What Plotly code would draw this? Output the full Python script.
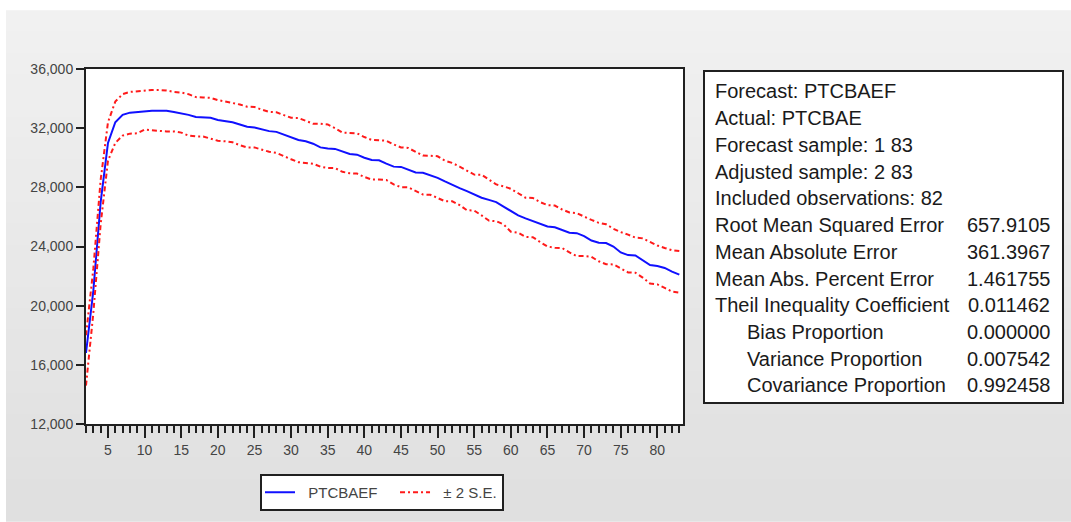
import plotly.graph_objects as go

obs = list(range(2, 84))
forecast = [16800, 21000, 27000, 31000, 32400, 32900, 33050, 33100, 33150, 33180,
            33180, 33180, 33100, 33020, 32900, 32750, 32730, 32700, 32550, 32460,
            32400, 32250, 32100, 32050, 31900, 31800, 31750, 31550, 31400, 31200,
            31110, 30950, 30700, 30620, 30600, 30450, 30250, 30210, 30000, 29850,
            29830, 29600, 29400, 29380, 29200, 29000, 28980, 28800, 28640, 28400,
            28200, 27950, 27740, 27500, 27300, 27150, 27000, 26700, 26400, 26100,
            25900, 25710, 25500, 25350, 25300, 25100, 24930, 24900, 24700, 24400,
            24250, 24230, 24000, 23600, 23420, 23400, 23100, 22750, 22680, 22550,
            22300, 22100]
upper = [18000, 22500, 28500, 32400, 33800, 34300, 34450, 34500, 34550, 34580,
         34580, 34550, 34450, 34410, 34300, 34100, 34070, 34050, 33900, 33800,
         33740, 33600, 33450, 33430, 33250, 33100, 33070, 32900, 32700, 32690,
         32500, 32300, 32300, 32250, 32000, 31700, 31680, 31650, 31400, 31200,
         31180, 31150, 30900, 30700, 30660, 30400, 30150, 30140, 30100, 29800,
         29650, 29400, 29100, 28860, 28850, 28500, 28200, 28070, 27900, 27600,
         27300, 27280, 27000, 26800, 26770, 26500, 26300, 26250, 26000, 25800,
         25600, 25500, 25200, 24970, 24800, 24600, 24550, 24300, 24070, 23900,
         23750, 23690]
lower = [14600, 19500, 25500, 29800, 31000, 31500, 31630, 31650, 31900, 31850,
         31800, 31780, 31780, 31700, 31500, 31440, 31440, 31300, 31150, 31110,
         31050, 30850, 30700, 30700, 30550, 30400, 30330, 30100, 29900, 29700,
         29650, 29600, 29400, 29310, 29300, 29050, 28950, 28930, 28700, 28530,
         28530, 28500, 28200, 28010, 28000, 27750, 27510, 27500, 27300, 27060,
         27060, 26800, 26450, 26430, 26100, 25750, 25710, 25500, 25000, 24930,
         24650, 24630, 24300, 24000, 23920, 23900, 23600, 23350, 23350, 23300,
         23000, 22800, 22790, 22500, 22250, 22230, 21900, 21500, 21440, 21200,
         20950, 20880]

y_ticks = [12000, 16000, 20000, 24000, 28000, 32000, 36000]

stat_labels = ["Forecast: PTCBAEF", "Actual: PTCBAE", "Forecast sample: 1 83",
               "Adjusted sample: 2 83", "Included observations: 82",
               "Root Mean Squared Error", "Mean Absolute Error",
               "Mean Abs. Percent Error", "Theil Inequality Coefficient",
               "Bias Proportion", "Variance Proportion", "Covariance Proportion"]
stat_values = ["", "", "", "", "", "657.9105", "361.3967", "1.461755",
               "0.011462", "0.000000", "0.007542", "0.992458"]
stat_indent = [False] * 9 + [True] * 3

W, H = 1071, 522
PL, PR, PT, PB = 86, 683, 69, 425


def px(x):
    return (x - PL) / (PR - PL)


def py(y):
    return (PB - y) / (PB - PT)


NB = "\u00a0"
fig = go.Figure()
fig.add_trace(go.Scatter(x=obs, y=forecast, mode="lines",
                         name=NB * 2 + "PTCBAEF" + NB * 3,
                         line=dict(color="#1010ff", width=2)))
fig.add_trace(go.Scatter(x=obs, y=upper, mode="lines", name=NB * 2 + "\u00b1 2 S.E.",
                         line=dict(color="#ff1a1a", width=2, dash="5px,3px,2px,3px"),
                         legendgroup="se"))
fig.add_trace(go.Scatter(x=obs, y=lower, mode="lines", name="\u00b1 2 S.E.",
                         line=dict(color="#ff1a1a", width=2, dash="5px,3px,2px,3px"),
                         legendgroup="se", showlegend=False))

shapes = []
# gray gradient background panel
n = 24
top, bot = 10, H
for i in range(n):
    y0 = top + (bot - top) * i / n
    y1 = top + (bot - top) * (i + 1) / n + 1
    c = int(241 - (241 - 224) * i / (n - 1))
    shapes.append(dict(type="rect", xref="paper", yref="paper",
                       x0=px(6), x1=px(W + 5), y0=py(y1), y1=py(y0),
                       line=dict(width=0), fillcolor=f"rgb({c},{c},{c})",
                       layer="below"))
# plot area white
shapes.append(dict(type="rect", xref="paper", yref="paper", x0=0, x1=1, y0=0, y1=1,
                   line=dict(width=0), fillcolor="white", layer="below"))
# stats box
shapes.append(dict(type="rect", xref="paper", yref="paper",
                   x0=px(704), x1=px(1063), y0=py(404), y1=py(71),
                   line=dict(color="#202020", width=2), fillcolor="white"))

annotations = []
line0 = 91.5
step = 26.8
stat_font = dict(family="Liberation Sans", size=20, color="#1a1a1a")
for i, (lab, val, ind) in enumerate(zip(stat_labels, stat_values, stat_indent)):
    yc = line0 + i * step
    annotations.append(dict(text=lab, xref="paper", yref="paper",
                            x=px(745 if ind else 713), y=py(yc), xanchor="left",
                            yanchor="middle", showarrow=False, font=stat_font))
    if val:
        annotations.append(dict(text=val, xref="paper", yref="paper",
                                x=px(1052), y=py(yc), xanchor="right",
                                yanchor="middle", showarrow=False, font=stat_font))

fig.update_layout(
    width=W, height=H,
    margin=dict(l=PL, r=W - PR, t=PT, b=H - PB),
    paper_bgcolor="white",
    plot_bgcolor="white",
    shapes=shapes,
    annotations=annotations,
    showlegend=True,
    legend=dict(orientation="h", x=px(260), y=py(474), xanchor="left", yanchor="top",
                bgcolor="white", bordercolor="#202020", borderwidth=2,
                font=dict(family="Liberation Sans", size=15, color="#444"),
                itemwidth=30, tracegroupgap=0),
    xaxis=dict(range=[2, 83.5], tickmode="linear", tick0=0, dtick=5,
               ticks="outside", ticklen=12, tickwidth=2, tickcolor="#202020",
               showline=True, linecolor="#202020", linewidth=2, mirror=True,
               showgrid=False, zeroline=False,
               tickfont=dict(family="Liberation Sans", size=14, color="#444"),
               minor=dict(dtick=1, tick0=0, ticks="outside", ticklen=7,
                          tickwidth=2, tickcolor="#202020", showgrid=False)),
    yaxis=dict(range=[12000, 36000], tickmode="array", tickvals=y_ticks,
               tickformat=",", ticks="outside", ticklen=8, tickwidth=2,
               tickcolor="#202020", showline=True, linecolor="#202020",
               linewidth=2, mirror=True, showgrid=False, zeroline=False,
               tickfont=dict(family="Liberation Sans", size=14, color="#444")),
)

fig.write_html("out.html")
